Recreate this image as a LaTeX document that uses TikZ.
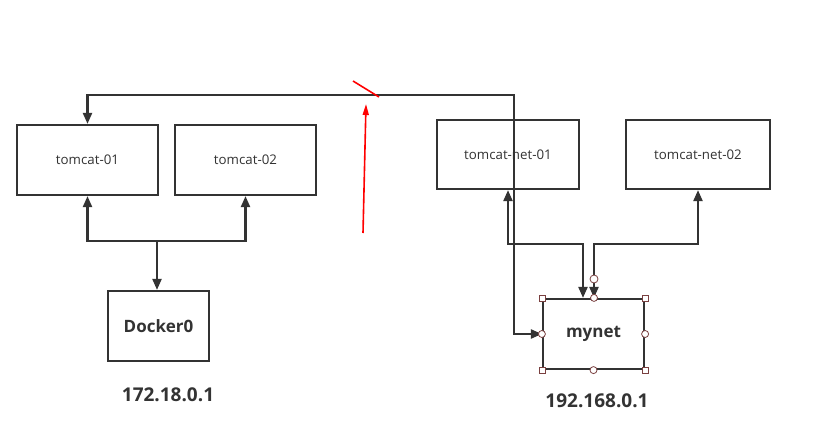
\documentclass[tikz,border=0pt]{standalone}
\usepackage{fontspec}
\setmainfont{Open Sans}
\usetikzlibrary{arrows.meta}
\definecolor{ink}{HTML}{333333}
\definecolor{handle}{HTML}{7A4040}
\tikzset{
  box/.style={draw=ink, line width=2.2pt, fill=white, text=ink, font=\fontsize{13.3}{15}\selectfont, inner sep=0pt},
  boldbox/.style={box, font=\fontsize{17}{20}\selectfont\bfseries},
  conn/.style={draw=ink, line width=2.2pt},
  tip/.style={-{Triangle[length=11pt,width=9pt]}},
  tips/.style={{Triangle[length=11pt,width=9pt]}-{Triangle[length=11pt,width=9pt]}},
  iplabel/.style={text=ink, font=\fontsize{19}{22}\selectfont\bfseries},
  sqh/.style={draw=handle, fill=white, line width=0.8pt, minimum size=6pt, inner sep=0pt, rectangle},
  cih/.style={draw=handle, fill=white, line width=0.8pt, minimum size=7pt, inner sep=0pt, circle},
}
\begin{document}
\begin{tikzpicture}[x=1pt,y=-1pt]
\useasboundingbox[fill=white] (0,0) rectangle (820,428);
% boxes
\node[box, minimum width=141pt, minimum height=70pt] (t1) at (87.5,160) {tomcat-01};
\node[box, minimum width=141pt, minimum height=70pt] (t2) at (245.5,160) {tomcat-02};
\node[box, minimum width=142pt, minimum height=69pt] (n1) at (508,154.5) {tomcat-net-01};
\node[box, minimum width=144pt, minimum height=69pt] (n2) at (698,154.5) {tomcat-net-02};
\node[boldbox, minimum width=101pt, minimum height=70pt] (d0) at (158.5,326) {Docker0};
\node[boldbox, minimum width=101pt, minimum height=70pt] (mn) at (593.5,334) {mynet};
% labels
\node[iplabel] (ip1) at (168,395) {172.18.0.1};
\node[iplabel] (ip2) at (597,401) {192.168.0.1};
% docker0 connectors
\coordinate (j1) at (157,241);
\draw[conn, tip] (j1) -| (t1.south);
\draw[conn, tip] (j1) -| (t2.south);
\draw[conn, tip] (j1) -- (j1 |- d0.north);
% big route
\coordinate (c1) at (514,95);
\draw[conn, tips] (t1.north) |- (c1) |- (mn.west);
% mynet to tomcat-net
\coordinate (c2) at (583,244);
\coordinate (c3) at (594,244);
\draw[conn, tips] (mn.north -| c2) -- (c2) -| (n1.south);
\draw[conn, tips] (mn.north -| c3) -- (c3) -| (n2.south);
% selection handles
\node[sqh] (h1) at (mn.north west) {};
\node[sqh] (h2) at (mn.north east) {};
\node[sqh] (h3) at (mn.south west) {};
\node[sqh] (h4) at (mn.south east) {};
\node[cih] (h5) at (mn.north -| c3) {};
\node[cih] (h6) at (mn.south) {};
\node[cih] (h7) at (mn.west) {};
\node[cih] (h8) at (mn.east) {};
\node[cih, minimum size=8pt] (h9) at (594,279) {};
% red marks
\draw[red, line width=1.6pt] (353,81) -- (379,97);
\draw[red, line width=1.6pt, -{Triangle[length=11pt,width=6pt]}] (363,233) -- (366,104);
\end{tikzpicture}
\end{document}
